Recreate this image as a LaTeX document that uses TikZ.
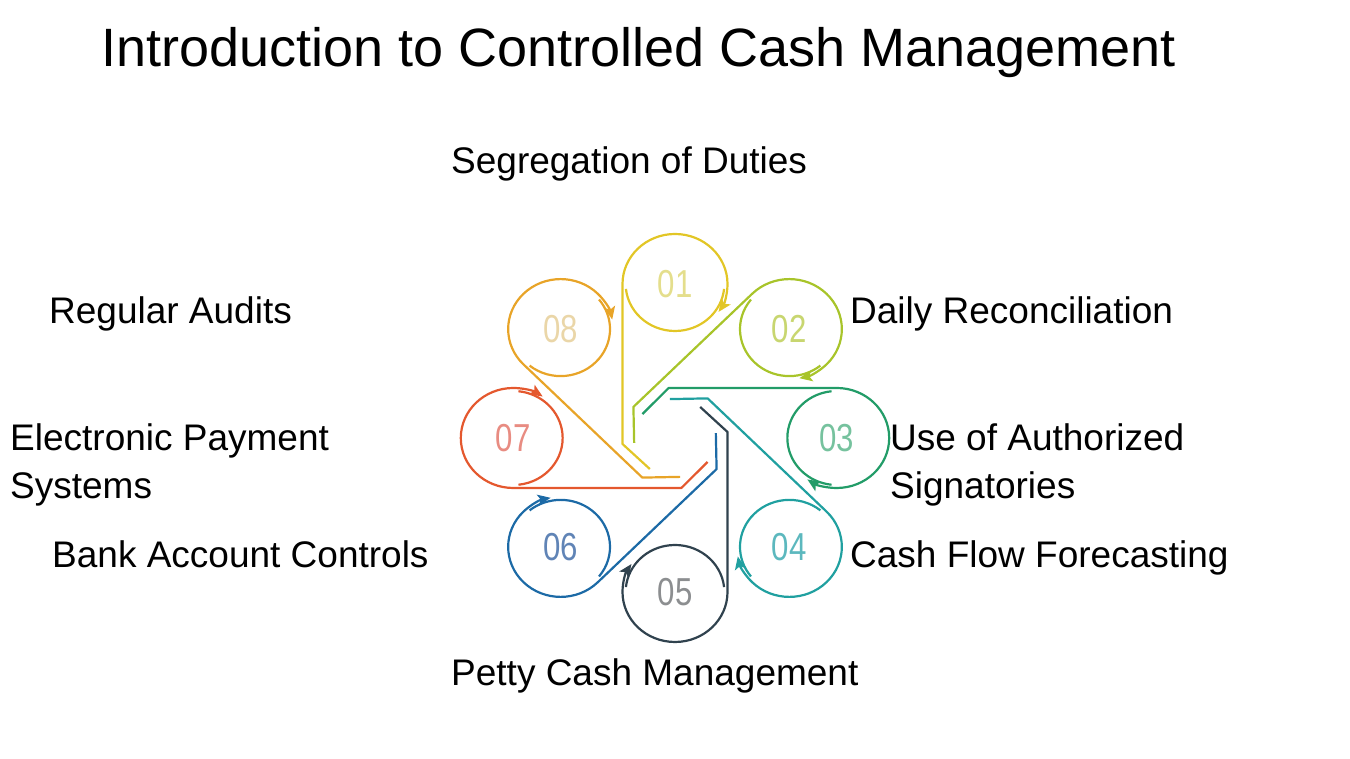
\documentclass[tikz,border=0pt]{standalone}
\usepackage{fontspec}
\setmainfont{Liberation Sans}
\newfontfamily\numfont[FakeStretch=0.8]{Liberation Sans}
\usetikzlibrary{arrows.meta, calc}
\definecolor{cyellow}{RGB}{226,198,38}
\definecolor{clime}{RGB}{168,196,42}
\definecolor{cgreen}{RGB}{34,156,104}
\definecolor{cteal}{RGB}{32,160,160}
\definecolor{cslate}{RGB}{48,66,78}
\definecolor{cblue}{RGB}{28,106,166}
\definecolor{cred}{RGB}{228,88,46}
\definecolor{corange}{RGB}{232,164,40}
\definecolor{pyellow}{RGB}{228,222,140}
\definecolor{plime}{RGB}{200,214,112}
\definecolor{pgreen}{RGB}{118,194,158}
\definecolor{pteal}{RGB}{92,184,190}
\definecolor{pslate}{RGB}{140,142,144}
\definecolor{pblue}{RGB}{96,132,182}
\definecolor{pred}{RGB}{232,140,130}
\definecolor{porange}{RGB}{234,214,168}
\tikzset{
  looppath/.style={line width=2.2pt, line join=round},
  looparrow/.style={-{Stealth[length=13pt, width=11pt, inset=3pt]}, line width=2.2pt, line join=round},
  numlabel/.style={font=\numfont\fontsize{39}{39}\selectfont, inner sep=0pt},
  itemlabel/.style={font=\fontsize{37}{48}\selectfont, anchor=base west,
    inner sep=0pt, align=left},
  titlelabel/.style={font=\fontsize{54}{54}\selectfont, anchor=base west, inner sep=0pt}
}

\begin{document}
\begin{tikzpicture}[x=1pt, y=1pt]
  \useasboundingbox (0,0) rectangle (1350,759);

  \node[titlelabel] (title) at (101,692) {Introduction to Controlled Cash Management};

  % eight spiral loops round the centre, 01 at the top, clockwise
  \begin{scope}[shift={(675,321)}, xscale=1.05]
    \foreach \k/\ang/\col/\pale in {1/90/cyellow/pyellow, 2/45/clime/plime,
        3/0/cgreen/pgreen, 4/-45/cteal/pteal, 5/-90/cslate/pslate,
        6/-135/cblue/pblue, 7/180/cred/pred, 8/135/corange/porange}{
      \node[numlabel, text=\pale] (n\k) at (\ang:154) {0\k};
      \begin{scope}[rotate=\ang]
        \draw[looparrow, \col] (-31,24) -- (-6,50) -- (154,50)
          arc[start angle=90, end angle=-124, radius=50];
        \draw[looppath, \col] (154,0) ++(96:47)
          arc[start angle=96, end angle=264, radius=47];
      \end{scope}
    }
  \end{scope}

  \node[itemlabel] (seg) at (451,585) {Segregation of Duties};
  \node[itemlabel] (daily) at (850,435) {Daily Reconciliation};
  \node[itemlabel] (signs) at (890,260) {Use of Authorized\\Signatories};
  \node[itemlabel] (flow) at (850,191) {Cash Flow Forecasting};
  \node[itemlabel] (petty) at (451,73) {Petty Cash Management};
  \node[itemlabel] (bank) at (52,191) {Bank Account Controls};
  \node[itemlabel] (epay) at (10,260) {Electronic Payment\\Systems};
  \node[itemlabel] (audit) at (49,435) {Regular Audits};
\end{tikzpicture}
\end{document}
